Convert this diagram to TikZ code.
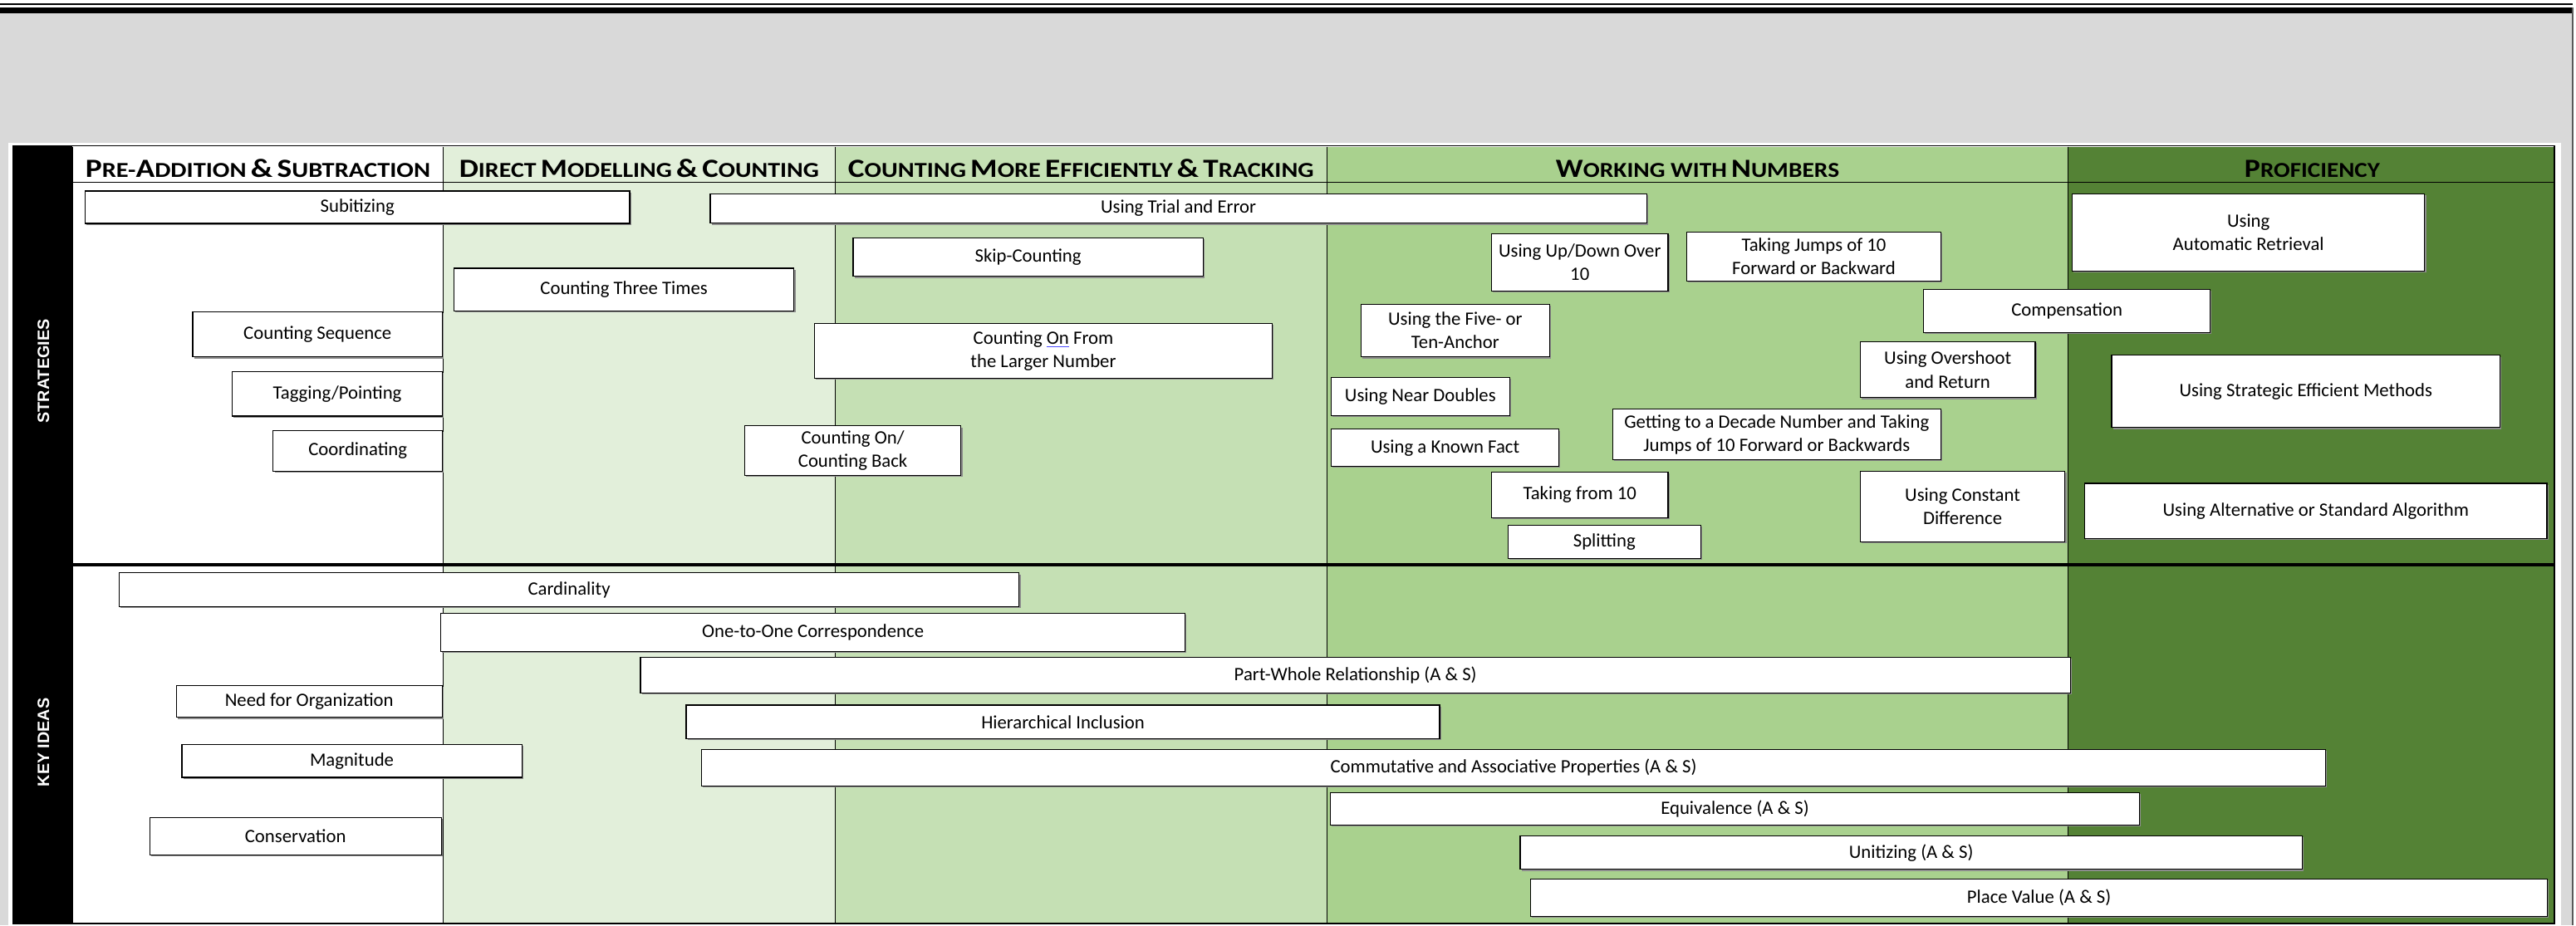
\documentclass[tikz,border=0pt]{standalone}
\usepackage{fontspec}
\usepackage{graphicx}
\setmainfont{Carlito}
\newfontfamily\sidefont{Liberation Sans}
\usetikzlibrary{shadows}
\definecolor{bggray}{HTML}{D9D9D9}
\definecolor{gA}{HTML}{E2EFDA}
\definecolor{gB}{HTML}{C5E0B4}
\definecolor{gC}{HTML}{A9D18E}
\definecolor{gD}{HTML}{548235}
\newsavebox\hdrbox
\newcommand\fitx[2]{\sbox\hdrbox{#2}\pgfmathsetmacro\sxf{#1/\the\wd\hdrbox}\scalebox{\sxf}[1]{\usebox\hdrbox}}
\newcommand\SCap[1]{{\fontsize{16}{16}\selectfont #1}}
\newcommand\SSm[1]{{\fontsize{13}{13}\selectfont #1}}
\newcommand\bx[6]{%
  \pgfmathsetmacro\bw{#4-#2}\pgfmathsetmacro\bh{#5-#3}%
  \node[box, anchor=north west, minimum width=\bw pt, minimum height=\bh pt] (#1) at (#2,#3) {#6};}
\tikzset{
  box/.style={draw=black, line width=0.6pt, fill=white, inner sep=0pt, align=center,
    font=\fontsize{11.5}{14.2}\selectfont,
    drop shadow={shadow xshift=0.9pt, shadow yshift=-0.9pt, fill=black!45, opacity=1}},
  hdr/.style={inner sep=0pt, anchor=base, font=\bfseries},
  side/.style={text=white, font=\sidefont\bfseries\fontsize{10}{10}\selectfont, rotate=90, inner sep=0pt},
  colline/.style={draw=black, line width=0.5pt},
}
\begin{document}
\begin{tikzpicture}[x=1pt,y=-1pt]
\useasboundingbox (0,0) rectangle (1568,563.3);
% page background
\fill[white] (0,0) rectangle (1568,563.3);
\fill[bggray] (0,8.1) rectangle (1565.3,563.3);
\fill[black] (0,2) rectangle (1565.8,3);
\fill[black] (0,4.5) rectangle (1565.8,8.1);
\draw[black!65, line width=1pt] (1565.8,4.5) -- (1565.8,563.3);
\fill[white] (5,87) rectangle (1558.7,563.3);
% columns
\fill[black] (7.9,88.8) rectangle (44.2,562.3);
\fill[white] (44.2,89.3) rectangle (269.6,562.3);
\fill[gA] (269.6,89.3) rectangle (508.3,562.3);
\fill[gB] (508.3,89.3) rectangle (807.9,562.3);
\fill[gC] (807.9,89.3) rectangle (1258.7,562.3);
\fill[gD] (1258.7,89.3) rectangle (1554.8,562.3);
\draw[line width=0.8pt] (7.9,88.8) rectangle (1554.8,562.3);
\draw[line width=0.8pt] (44.2,110.9) -- (1554.8,110.9);
\draw[line width=2pt] (44.2,343.8) -- (1554.8,343.8);
\foreach \cx in {44.2,269.6,508.3,807.9,1258.7}
  \draw[colline] (\cx,89.3) -- (\cx,562.3);
% side labels
\node[side] (lstr) at (26.5,226) {STRATEGIES};
\node[side] (lkey) at (26.5,452) {KEY IDEAS};
% headers
\node[hdr] (h1) at (157,107.9) {\fitx{210}{\SCap{P}\SSm{RE-}\SCap{A}\SSm{DDITION} \SCap{\&} \SCap{S}\SSm{UBTRACTION}}};
\node[hdr] (h2) at (389,107.9) {\fitx{219}{\SCap{D}\SSm{IRECT} \SCap{M}\SSm{ODELLING} \SCap{\&} \SCap{C}\SSm{OUNTING}}};
\node[hdr] (h3) at (658,107.9) {\fitx{283.5}{\SCap{C}\SSm{OUNTING} \SCap{M}\SSm{ORE} \SCap{E}\SSm{FFICIENTLY} \SCap{\&} \SCap{T}\SSm{RACKING}}};
\node[hdr] (h4) at (1033.3,107.9) {\fitx{172.5}{\SCap{W}\SSm{ORKING WITH} \SCap{N}\SSm{UMBERS}}};
\node[hdr] (h5) at (1407.4,107.9) {\fitx{82.4}{\SCap{P}\SSm{ROFICIENCY}}};
% strategies
\bx{s1}{51.5}{116}{383}{135.7}{Subitizing}
\bx{s2}{432}{117.6}{1002}{135.6}{Using Trial and Error}
\bx{s3}{519}{144.6}{732}{168}{Skip-Counting}
\bx{s4}{276}{163}{483}{189}{Counting Three Times}
\bx{s5}{117}{189.6}{269}{217}{Counting Sequence}
\bx{s6}{141}{226}{269}{253}{Tagging/Pointing}
\bx{s7}{166}{261.7}{269}{286.5}{Coordinating}
\bx{s8}{495.5}{196.7}{774}{230}{Counting {\color{blue!70}\underline{\color{black}On}} From\\the Larger Number}
\bx{s9}{453}{259}{584.6}{289}{Counting On/\\Counting Back}
\bx{s10}{907.6}{142}{1015}{177}{Using Up/Down Over\\10}
\bx{s11}{1026.5}{141}{1181}{170.8}{Taking Jumps of 10\\Forward or Backward}
\bx{s12}{828}{185}{943}{217}{Using the Five- or\\Ten-Anchor}
\bx{s13}{810}{229.6}{918.5}{252.8}{Using Near Doubles}
\bx{s14}{810}{261}{948.6}{283.7}{Using a Known Fact}
\bx{s15}{981.3}{248.8}{1181}{279.5}{Getting to a Decade Number and Taking\\Jumps of 10 Forward or Backwards}
\bx{s16}{907.6}{287}{1015}{315}{Taking from 10}
\bx{s17}{917.5}{319.4}{1035}{339.6}{Splitting}
\bx{s18}{1170.6}{176}{1345}{202}{Compensation}
\bx{s19}{1132}{207.8}{1238.5}{241.8}{Using Overshoot\\and Return}
\bx{s20}{1132}{286.5}{1256.6}{329.5}{Using Constant\\Difference}
\bx{s21}{1261}{117.6}{1475.6}{164.8}{Using\\Automatic Retrieval}
\bx{s22}{1285}{216}{1521.5}{260}{Using Strategic Efficient Methods}
\bx{s23}{1268.6}{294}{1550}{327.5}{Using Alternative or Standard Algorithm}
% key ideas
\bx{k1}{72.2}{348.5}{620}{369}{Cardinality}
\bx{k2}{268}{373}{721}{396.4}{One-to-One Correspondence}
\bx{k3}{389.5}{399.8}{1260}{421.7}{Part-Whole Relationship (A \& S)}
\bx{k4}{107}{417}{268.8}{436.5}{Need for Organization}
\bx{k5}{417.4}{429}{876}{449.5}{Hierarchical Inclusion}
\bx{k6}{110.4}{453}{317.3}{473}{Magnitude}
\bx{k7}{426.7}{456}{1415.3}{478.3}{Commutative and Associative Properties (A \& S)}
\bx{k8}{90.8}{497.5}{268.3}{520.3}{Conservation}
\bx{k9}{809.5}{482.4}{1302}{502}{Equivalence (A \& S)}
\bx{k10}{925}{508.7}{1401}{529}{Unitizing (A \& S)}
\bx{k11}{931.4}{535}{1550.3}{557.7}{Place Value (A \& S)}
\end{tikzpicture}
\end{document}
